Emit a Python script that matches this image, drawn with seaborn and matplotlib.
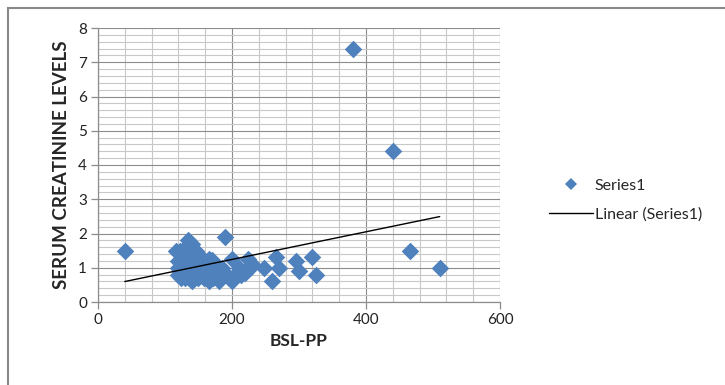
import numpy as np
import pandas as pd
import matplotlib
matplotlib.use("Agg")
import matplotlib.pyplot as plt
import seaborn as sns
from matplotlib.ticker import MultipleLocator
from matplotlib.lines import Line2D
from matplotlib.patches import Rectangle

bsl_pp = [120, 120, 120, 122, 122, 124, 125, 125, 126, 128, 128, 130, 130, 130, 131,
          132, 133, 134, 135, 135, 136, 137, 138, 138, 140, 140, 140, 141, 142, 143,
          144, 145, 145, 146, 147, 148, 148, 150, 150, 152, 153, 155, 155, 157, 158,
          160, 160, 162, 165, 165, 168, 170, 172, 175, 178, 180, 185, 187, 190, 195,
          200, 200, 205, 210, 214, 219, 224, 227, 230, 248, 260, 265, 270, 295, 300,
          320, 325, 40, 380, 440, 465, 510, 117, 165, 170]
creatinine = [0.8, 1.0, 1.2, 0.9, 1.5, 0.7, 1.1, 1.3, 0.8, 1.0, 1.4, 0.7, 0.9, 1.2, 1.6,
              1.0, 0.8, 1.3, 1.8, 1.1, 0.7, 0.9, 1.5, 1.2, 0.6, 1.0, 1.7, 0.8, 1.4, 1.1,
              0.7, 1.3, 0.9, 1.5, 1.0, 0.8, 1.2, 0.7, 1.1, 0.9, 1.3, 0.8, 1.0, 1.2, 0.7,
              0.9, 1.1, 0.8, 1.0, 0.6, 1.2, 0.9, 0.7, 1.1, 0.8, 0.6, 1.0, 0.9, 1.9, 0.7,
              1.25, 0.6, 0.8, 1.0, 0.8, 0.85, 1.25, 1.0, 1.1, 1.0, 0.6, 1.3, 1.0, 1.2, 0.9,
              1.3, 0.8, 1.5, 7.4, 4.4, 1.5, 1.0, 1.5, 1.25, 1.24]
x_ticks = [0, 200, 400, 600]
y_ticks = [0, 1, 2, 3, 4, 5, 6, 7, 8]

df = pd.DataFrame({"BSL-PP": bsl_pp, "SERUM CREATININE LEVELS": creatinine})

sns.set_style("white")
plt.rcParams["font.family"] = ["Lato", "DejaVu Sans"]

fig = plt.figure(figsize=(7.25, 3.85), dpi=100)
ax = fig.add_axes([98 / 725, 1 - 302 / 385, (500 - 98) / 725, (302 - 28) / 385])

blue = "#4F81BD"
sns.regplot(data=df, x="BSL-PP", y="SERUM CREATININE LEVELS", ax=ax, ci=None,
            marker="D", color=blue,
            scatter_kws=dict(s=80, linewidths=0, alpha=1, zorder=3),
            line_kws=dict(color="black", lw=1.0, zorder=4), truncate=True)

ax.set_xlim(0, 600)
ax.set_ylim(0, 8)
ax.set_xticks(x_ticks)
ax.set_yticks(y_ticks)
ax.xaxis.set_minor_locator(MultipleLocator(40))
ax.yaxis.set_minor_locator(MultipleLocator(0.2))
ax.grid(which="minor", color="#c8c8c8", lw=0.8, zorder=0)
ax.grid(which="major", color="#8c8c8c", lw=0.8, zorder=1)
ax.set_axisbelow(True)
for s in ["top", "right"]:
    ax.spines[s].set_visible(False)
for s in ["left", "bottom"]:
    ax.spines[s].set_color("#8c8c8c")
    ax.spines[s].set_linewidth(0.9)
ax.tick_params(which="major", direction="out", length=5, width=0.9, color="#8c8c8c",
               labelsize=11, labelcolor="#222222", left=True, bottom=True, pad=3)
ax.tick_params(which="minor", length=0)
ax.set_xlabel("BSL-PP", fontsize=12.5, fontweight="bold", labelpad=4)
ax.set_ylabel("SERUM CREATININE LEVELS", fontsize=13.5, fontweight="bold", labelpad=6)

handles = [Line2D([], [], marker="D", color=blue, ls="none", markersize=6.5, markeredgewidth=0),
           Line2D([], [], color="black", lw=1.0)]
fig.legend(handles, ["Series1", "Linear (Series1)"], loc="upper left",
           bbox_to_anchor=(535 / 725, 1 - 164 / 385), frameon=False, fontsize=11.5,
           handlelength=2.7, labelspacing=0.95, handletextpad=0.15)

fig.patches.append(Rectangle((8 / 725, -0.1), 1.2, 1.1 - 8 / 385, transform=fig.transFigure,
                             fill=False, edgecolor="#888888", lw=1.5))

fig.savefig("out.png", dpi=100)
